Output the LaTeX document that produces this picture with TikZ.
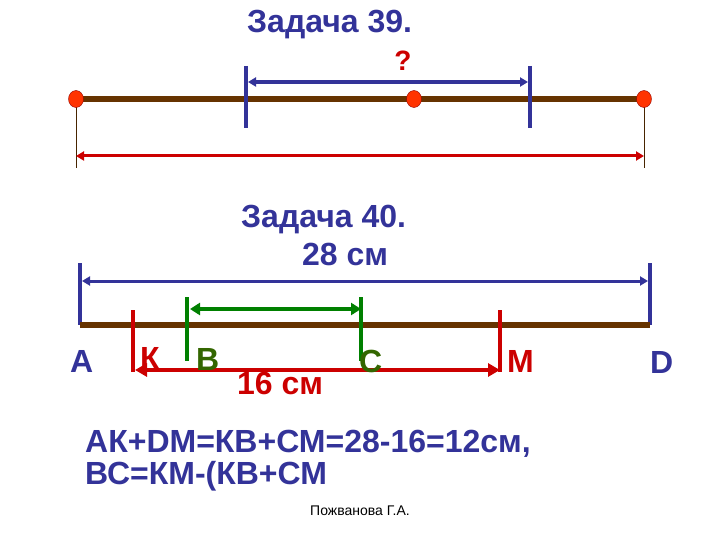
\documentclass[tikz,border=0pt]{standalone}
\usepackage{fontspec}
\setmainfont{Liberation Sans}
\usetikzlibrary{arrows.meta}
\definecolor{zblue}{RGB}{51,51,153}
\definecolor{zred}{RGB}{204,0,0}
\definecolor{zbrown}{RGB}{102,51,0}
\definecolor{zgreen}{RGB}{0,128,0}
\definecolor{zolive}{RGB}{51,102,0}
\definecolor{zdot}{RGB}{255,51,0}
\tikzset{>={Triangle[length=8pt,width=9pt]}}
\tikzset{
  big/.style={font=\bfseries\fontsize{32}{32}\selectfont, inner sep=0pt, anchor=base west},
  seg/.style={zbrown, line width=6pt},
  tick/.style={line width=4.5pt},
  pt/.style={fill=zdot, draw=zred!70!black, thin}
}

\begin{document}
\begin{tikzpicture}[x=1pt,y=-1pt]
\useasboundingbox (0,0) rectangle (720,540);
% Задача 39
\node[big, text=zblue] (t39) at (247,33) {Задача 39.};
\coordinate (P) at (76,99);
\coordinate (Q) at (414,99);
\coordinate (R) at (644,99);
\coordinate (U1) at (246,66);
\coordinate (U2) at (246,128);
\coordinate (V1) at (530,66);
\coordinate (V2) at (530,128);
\coordinate (PL) at (76,168);
\coordinate (RL) at (644,168);
\draw[seg] (P) -- (R);
\draw[zblue, tick] (U1) -- (U2);
\draw[zblue, tick] (V1) -- (V2);
\draw[<->, zblue, line width=4pt, shorten <=2pt, shorten >=2pt] (U1|-0,82) -- (V1|-0,82)
  node[midway, above=9pt, xshift=15pt, zred, inner sep=0pt,
  font=\bfseries\fontsize{28}{28}\selectfont] (q) {?};
\draw[zbrown!70!black, thin] (P) -- (PL);
\draw[zbrown!70!black, thin] (R) -- (RL);
\draw[<->, zred, line width=3pt] (PL|-0,156) -- (RL|-0,156);
\foreach \p in {P,Q,R}
\draw[pt] (\p) ellipse [x radius=7.5, y radius=8.5];
% Задача 40
\node[big, text=zblue] (t40) at (241,228) {Задача 40.};
\node[big, text=zblue] (l28) at (302,265) {28 см};
\coordinate (A) at (80,325);
\coordinate (D) at (650,325);
\coordinate (A1) at (80,263);
\coordinate (D1) at (650,263);
\coordinate (K1) at (133,310);
\coordinate (K2) at (133,372);
\coordinate (M1) at (500,310);
\coordinate (M2) at (500,372);
\coordinate (B1) at (187,297);
\coordinate (B2) at (187,361);
\coordinate (C1) at (361,297);
\coordinate (C2) at (361,361);
\draw[zblue, tick] (A1) -- (A);
\draw[zblue, tick] (D1) -- (D);
\draw[<->, zblue, line width=3pt, shorten <=2pt, shorten >=2pt] (A1|-0,281) -- (D1|-0,281);
\draw[seg] (A) -- (D);
\draw[zred, tick] (K1) -- (K2);
\draw[zred, tick] (M1) -- (M2);
\draw[zgreen, tick] (B1) -- (B2);
\draw[zgreen, tick] (C1) -- (C2);
\draw[<->, zgreen, line width=4pt, >={Triangle[length=10pt,width=12pt]}, shorten <=3pt] (B1|-0,309) -- (C1|-0,309);
\draw[<->, zred, line width=4.5pt, >={Triangle[length=12pt,width=13pt]}, shorten <=2pt] (K1|-0,370) -- (M1|-0,370);
\node[big, text=zblue] (a) at (70,372) {A};
\node[big, text=zred] (k) at (140,369) {К};
\node[big, text=zolive] (b) at (196,370) {В};
\node[big, text=zolive] (c) at (359,372) {С};
\node[big, text=zred] (m) at (507,372) {М};
\node[big, text=zblue] (d) at (650,373) {D};
\node[big, text=zred] (l16) at (237,394) {16 см};
% решение
\node[big, text=zblue] (eq1) at (85,452) {АК+DМ=КВ+СМ=28-16=12см,};
\node[big, text=zblue] (eq2) at (85,484) {ВС=КМ-(КВ+СМ};
\node[font=\fontsize{14}{14}\selectfont, inner sep=0pt, anchor=base west] (auth) at (310,515) {Пожванова Г.А.};
\end{tikzpicture}
\end{document}
